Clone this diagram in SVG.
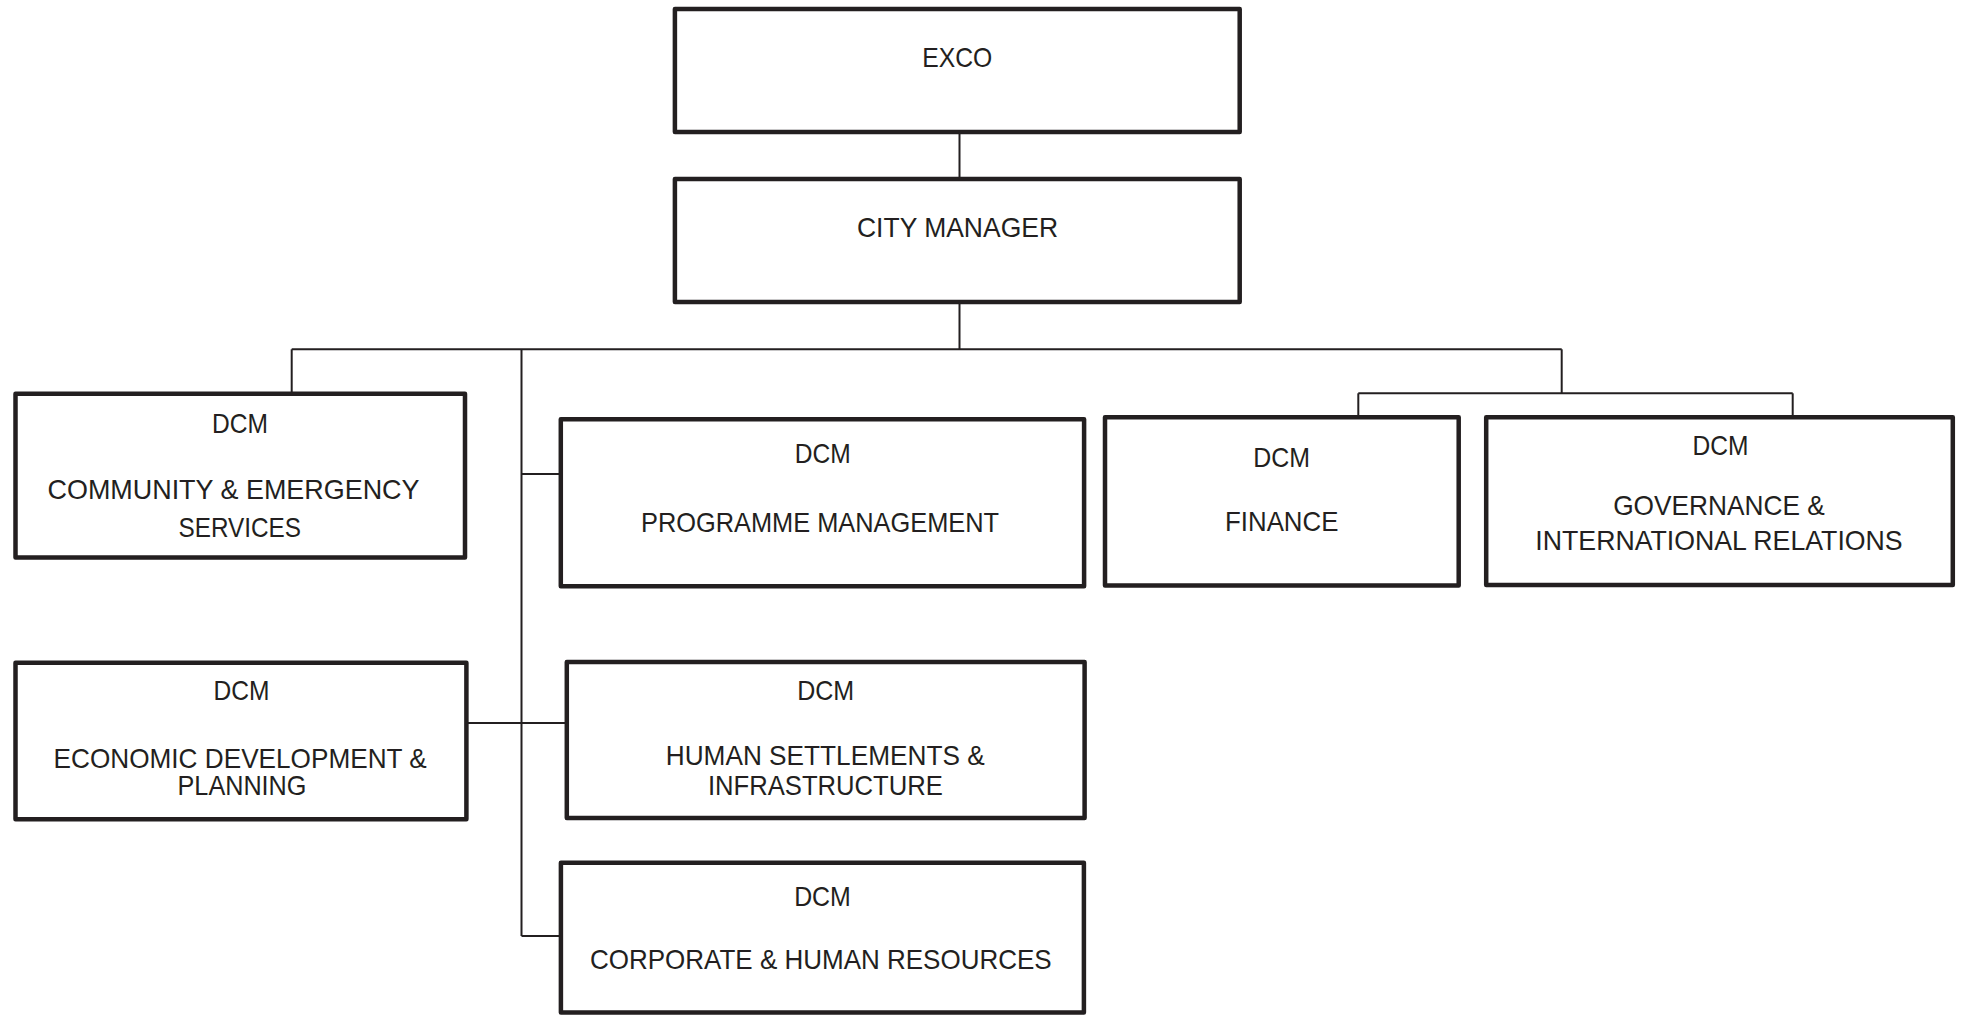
<svg xmlns="http://www.w3.org/2000/svg" width="1963" height="1015" viewBox="0 0 1963 1015">
  <style>
    .box { fill: #ffffff; stroke: #231f20; stroke-width: 4.5; stroke-linejoin: round; }
    .link { fill: none; stroke: #231f20; stroke-width: 2; }
    text { font-family: "Liberation Sans", Arial, sans-serif; font-size: 27.5px; fill: #231f20; text-anchor: middle; }
  </style>
  <rect width="1963" height="1015" fill="#ffffff"/>

  <!-- reporting lines -->
  <g id="connectors">
    <line class="link" x1="959.5" y1="132" x2="959.5" y2="179"/>
    <line class="link" x1="959.5" y1="302" x2="959.5" y2="349.3"/>
    <line class="link" x1="291.7" y1="349.3" x2="1561.7" y2="349.3"/>
    <line class="link" x1="291.7" y1="349.3" x2="291.7" y2="394"/>
    <line class="link" x1="521.5" y1="349.3" x2="521.5" y2="936"/>
    <line class="link" x1="521.5" y1="474" x2="561" y2="474"/>
    <line class="link" x1="466" y1="723" x2="567" y2="723"/>
    <line class="link" x1="521.5" y1="936" x2="561" y2="936"/>
    <line class="link" x1="1561.7" y1="349.3" x2="1561.7" y2="393.3"/>
    <line class="link" x1="1358.3" y1="393.3" x2="1792.7" y2="393.3"/>
    <line class="link" x1="1358.3" y1="393.3" x2="1358.3" y2="417"/>
    <line class="link" x1="1792.7" y1="393.3" x2="1792.7" y2="417"/>
  </g>

  <g id="exco">
    <rect class="box" x="674.9" y="9" width="564.8" height="123"/>
    <text x="957.3" y="66.7" textLength="70" lengthAdjust="spacingAndGlyphs">EXCO</text>
  </g>

  <g id="city-manager">
    <rect class="box" x="674.9" y="179" width="564.8" height="123"/>
    <text x="957.5" y="236.7" textLength="201" lengthAdjust="spacingAndGlyphs">CITY MANAGER</text>
  </g>

  <g id="dcm-community">
    <rect class="box" x="15.5" y="393.8" width="449.5" height="163.7"/>
    <text x="240" y="433.3" textLength="56" lengthAdjust="spacingAndGlyphs">DCM</text>
    <text x="233.5" y="499.3" textLength="372" lengthAdjust="spacingAndGlyphs">COMMUNITY &amp; EMERGENCY</text>
    <text x="239.8" y="536.7" textLength="122.5" lengthAdjust="spacingAndGlyphs">SERVICES</text>
  </g>

  <g id="dcm-programme">
    <rect class="box" x="560.8" y="419.3" width="523.3" height="167"/>
    <text x="822.7" y="463.3" textLength="56" lengthAdjust="spacingAndGlyphs">DCM</text>
    <text x="820" y="531.7" textLength="358" lengthAdjust="spacingAndGlyphs">PROGRAMME MANAGEMENT</text>
  </g>

  <g id="dcm-finance">
    <rect class="box" x="1105" y="417.2" width="353.7" height="168.3"/>
    <text x="1281.7" y="467.3" textLength="56.7" lengthAdjust="spacingAndGlyphs">DCM</text>
    <text x="1281.7" y="530.7" textLength="113.3" lengthAdjust="spacingAndGlyphs">FINANCE</text>
  </g>

  <g id="dcm-governance">
    <rect class="box" x="1486.2" y="417.2" width="466.6" height="167.8"/>
    <text x="1720.5" y="455" textLength="56" lengthAdjust="spacingAndGlyphs">DCM</text>
    <text x="1719" y="515" textLength="211.7" lengthAdjust="spacingAndGlyphs">GOVERNANCE &amp;</text>
    <text x="1719" y="550" textLength="367.3" lengthAdjust="spacingAndGlyphs">INTERNATIONAL RELATIONS</text>
  </g>

  <g id="dcm-economic">
    <rect class="box" x="15.5" y="662.8" width="450.9" height="156.4"/>
    <text x="241.4" y="700" textLength="56" lengthAdjust="spacingAndGlyphs">DCM</text>
    <text x="240.2" y="767.7" textLength="373.2" lengthAdjust="spacingAndGlyphs">ECONOMIC DEVELOPMENT &amp;</text>
    <text x="242" y="795" textLength="128.9" lengthAdjust="spacingAndGlyphs">PLANNING</text>
  </g>

  <g id="dcm-human-settlements">
    <rect class="box" x="566.8" y="662" width="517.8" height="156"/>
    <text x="825.7" y="700" textLength="57" lengthAdjust="spacingAndGlyphs">DCM</text>
    <text x="825.2" y="765" textLength="318.9" lengthAdjust="spacingAndGlyphs">HUMAN SETTLEMENTS &amp;</text>
    <text x="825.4" y="795" textLength="235" lengthAdjust="spacingAndGlyphs">INFRASTRUCTURE</text>
  </g>

  <g id="dcm-corporate">
    <rect class="box" x="560.9" y="862.8" width="523" height="149.7"/>
    <text x="822.5" y="906" textLength="56.7" lengthAdjust="spacingAndGlyphs">DCM</text>
    <text x="820.8" y="969" textLength="461.7" lengthAdjust="spacingAndGlyphs">CORPORATE &amp; HUMAN RESOURCES</text>
  </g>
</svg>
